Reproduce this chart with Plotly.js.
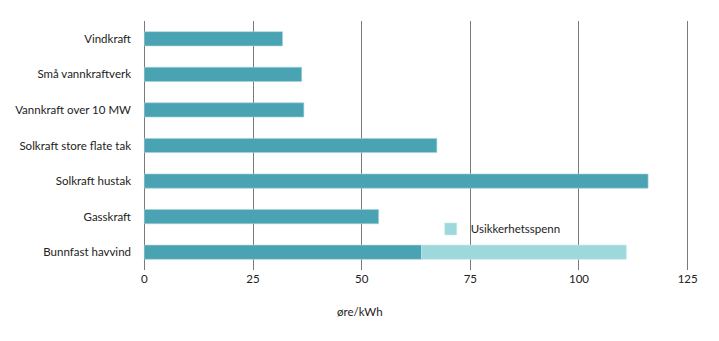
<!DOCTYPE html>
<html>
<head>
<meta charset="utf-8">
<script src="https://cdn.plot.ly/plotly-3.0.1.min.js"></script>
<style>html,body{margin:0;padding:0;background:#fff;}#chart{width:719px;height:341px;}</style>
</head>
<body>
<div id="chart"></div>
<script>
const categories = ["Vindkraft", "Små vannkraftverk", "Vannkraft over 10 MW", "Solkraft store flate tak", "Solkraft hustak", "Gasskraft", "Bunnfast havvind"];
const values = [31.8, 36.2, 36.7, 67.3, 115.9, 53.9, 63.8];
const uncertaintyHigh = [null, null, null, null, null, null, 110.9];
const xTicks = [0, 25, 50, 75, 100, 125];
const xTitle = "øre/kWh";
const legendLabel = "Usikkerhetsspenn";

const uncWidth = uncertaintyHigh.map((h, i) => h == null ? null : h - values[i]);

const FONT = "Lato, 'Noto Sans', sans-serif";
const traces = [
  {
    type: "bar", orientation: "h",
    y: categories, x: values,
    marker: {color: "#4aa3b2", line: {color: "#a8d3da", width: 0.6}},
    width: 0.4, showlegend: false, hoverinfo: "x+y"
  },
  {
    type: "bar", orientation: "h",
    y: categories, x: uncWidth, base: values,
    name: legendLabel,
    marker: {color: "#9dd9dc", line: {color: "#c6e9eb", width: 0.6}},
    width: 0.4, showlegend: true
  }
];

// plot spans 0..125 at pixels 144.5..688; pad range by 1 unit each side
const pxPerUnit = (688 - 144.5) / 125;
const padU = 1;
const layout = {
  width: 719, height: 341,
  margin: {l: 144.5 - padU * pxPerUnit, r: 31 - padU * pxPerUnit, t: 21, b: 71, pad: 0},
  paper_bgcolor: "#fff", plot_bgcolor: "#fff",
  font: {family: FONT, size: 11.5, color: "#222"},
  barmode: "overlay",
  xaxis: {
    range: [-padU, 125 + padU], tickvals: xTicks, ticktext: xTicks.map(String),
    showgrid: true, gridcolor: "#7a7a7a", gridwidth: 1,
    zeroline: false, showline: false, ticks: "", ticklen: 0,
    tickfont: {family: FONT, size: 11.5, color: "#222"}
  },
  yaxis: {
    type: "category", categoryorder: "array", categoryarray: categories,
    autorange: "reversed", range: [6.5, -0.5],
    showgrid: false, zeroline: false, showline: false, ticks: "",
    ticklabelstandoff: 8,
    tickfont: {family: FONT, size: 11.5, color: "#222"}
  },
  showlegend: true,
  legend: {
    x: 0.527, y: 0.165, xanchor: "left", yanchor: "middle",
    bgcolor: "rgba(0,0,0,0)", font: {family: FONT, size: 11.5, color: "#222"}
  },
  annotations: [{
    text: xTitle, xref: "paper", yref: "paper",
    x: 0.4, y: -(312 - 270) / 250,
    xanchor: "center", yanchor: "middle", showarrow: false,
    font: {family: FONT, size: 11.5, color: "#222"}
  }]
};
// place title at pixel x = 360
const plotW = 719 - layout.margin.l - layout.margin.r;
layout.annotations[0].x = (360 - layout.margin.l) / plotW;
const plotLeftPx = layout.margin.l;
layout.legend.x = (431 - plotLeftPx) / plotW;

Plotly.newPlot("chart", traces, layout, {displayModeBar: false, staticPlot: true});
</script>
</body>
</html>
